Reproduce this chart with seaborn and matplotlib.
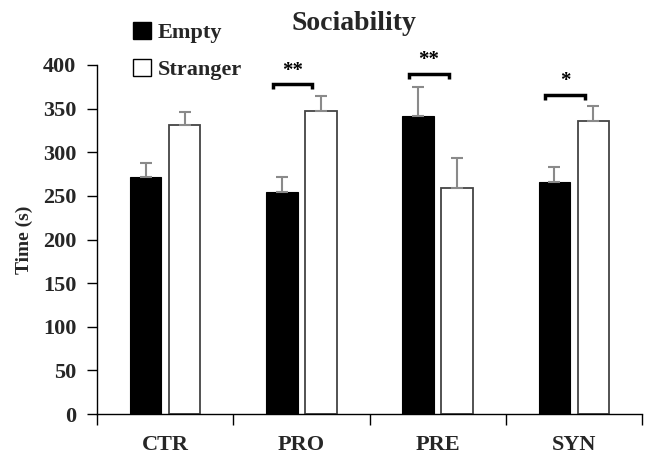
import numpy as np
import pandas as pd
import matplotlib
matplotlib.use("Agg")
import matplotlib.pyplot as plt
import seaborn as sns
from matplotlib.patches import Patch

groups = ["CTR", "PRO", "PRE", "SYN"]
conditions = ["Empty", "Stranger"]
empty_mean = [272, 255, 342, 266]
empty_err = [16, 17, 33, 17]
stranger_mean = [331, 347, 259, 336]
stranger_err = [15, 17, 34, 17]

# significance: group index, bracket height, stars
sig_groups = [1, 2, 3]
sig_heights = [378, 390, 366]
sig_labels = ["**", "**", "*"]

df = pd.DataFrame({
    "group": groups * 2,
    "condition": ["Empty"] * 4 + ["Stranger"] * 4,
    "time": empty_mean + stranger_mean,
})

sns.set_theme(style="white")
plt.rcParams["font.family"] = ["Liberation Serif", "DejaVu Serif"]
plt.rcParams["font.weight"] = "bold"

fig = plt.figure(figsize=(6.49, 4.70), dpi=100)
ax = fig.add_axes([97 / 649, 1 - 414 / 470, 545 / 649, 349 / 470])

sns.barplot(data=df, x="group", y="time", hue="condition", order=groups,
            hue_order=conditions, palette=["black", "white"],
            width=0.57, gap=0.19, errorbar=None, legend=False, ax=ax)

# bar edges
for i, p in enumerate(ax.patches[:8]):
    if i < 4:
        p.set_edgecolor("black")
        p.set_linewidth(0.8)
    else:
        p.set_edgecolor("#444444")
        p.set_linewidth(1.3)

# upward-only error bars, grey
errs = empty_err + stranger_err
means = empty_mean + stranger_mean
xs = [p.get_x() + p.get_width() / 2 for p in ax.patches[:8]]
ax.errorbar(xs, means, yerr=[np.zeros(8), errs], fmt="none",
            ecolor="#8a8a8a", elinewidth=1.5, capsize=4, capthick=1.5, zorder=3)

# significance brackets
for g, h, s in zip(sig_groups, sig_heights, sig_labels):
    x0, x1 = g - 0.21, g + 0.08
    ax.plot([x0, x0, x1, x1], [h - 6, h, h, h - 6], color="black", lw=2.5,
            solid_capstyle="butt", solid_joinstyle="miter", clip_on=False)
    ax.text((x0 + x1) / 2, h + 4, s, ha="center", va="bottom",
            fontsize=15, fontweight="bold", color="black")

ax.set_ylim(0, 400)
ax.set_xlim(-0.5, 3.5)
ax.set_yticks(np.arange(0, 401, 50))
ax.set_xticks(np.arange(-0.5, 3.6, 1.0))
ax.set_xticklabels([])
ax.set_xticks(range(4), minor=True)
ax.set_xticklabels(groups, minor=True)
ax.tick_params(axis="x", which="major", direction="out", length=8, width=1, color="black", bottom=True)
ax.tick_params(axis="x", which="minor", length=0, pad=15, labelsize=16)
ax.tick_params(axis="y", direction="out", length=7, width=1, color="black", left=True, labelsize=16, pad=8)
for lbl in ax.get_xticklabels(minor=True) + ax.get_yticklabels():
    lbl.set_fontweight("bold")

sns.despine(ax=ax)
for side in ["left", "bottom"]:
    ax.spines[side].set_color("black")
    ax.spines[side].set_linewidth(1)

ax.set_xlabel("")
ax.set_ylabel("Time (s)", fontsize=14, fontweight="bold", labelpad=7)

fig.text(354 / 649, 1 - 24 / 470, "Sociability", ha="center", va="center",
         fontsize=20, fontweight="bold")

handles = [Patch(facecolor="black", edgecolor="black"),
           Patch(facecolor="white", edgecolor="black", linewidth=1)]
fig.legend(handles, conditions, loc="upper left",
           bbox_to_anchor=(113 / 649, 1 - 2 / 470), frameon=False,
           handlelength=0.8, handleheight=0.8, handletextpad=0.3,
           labelspacing=0.7, prop={"size": 16, "weight": "bold"})

fig.savefig("out.png", dpi=100)
